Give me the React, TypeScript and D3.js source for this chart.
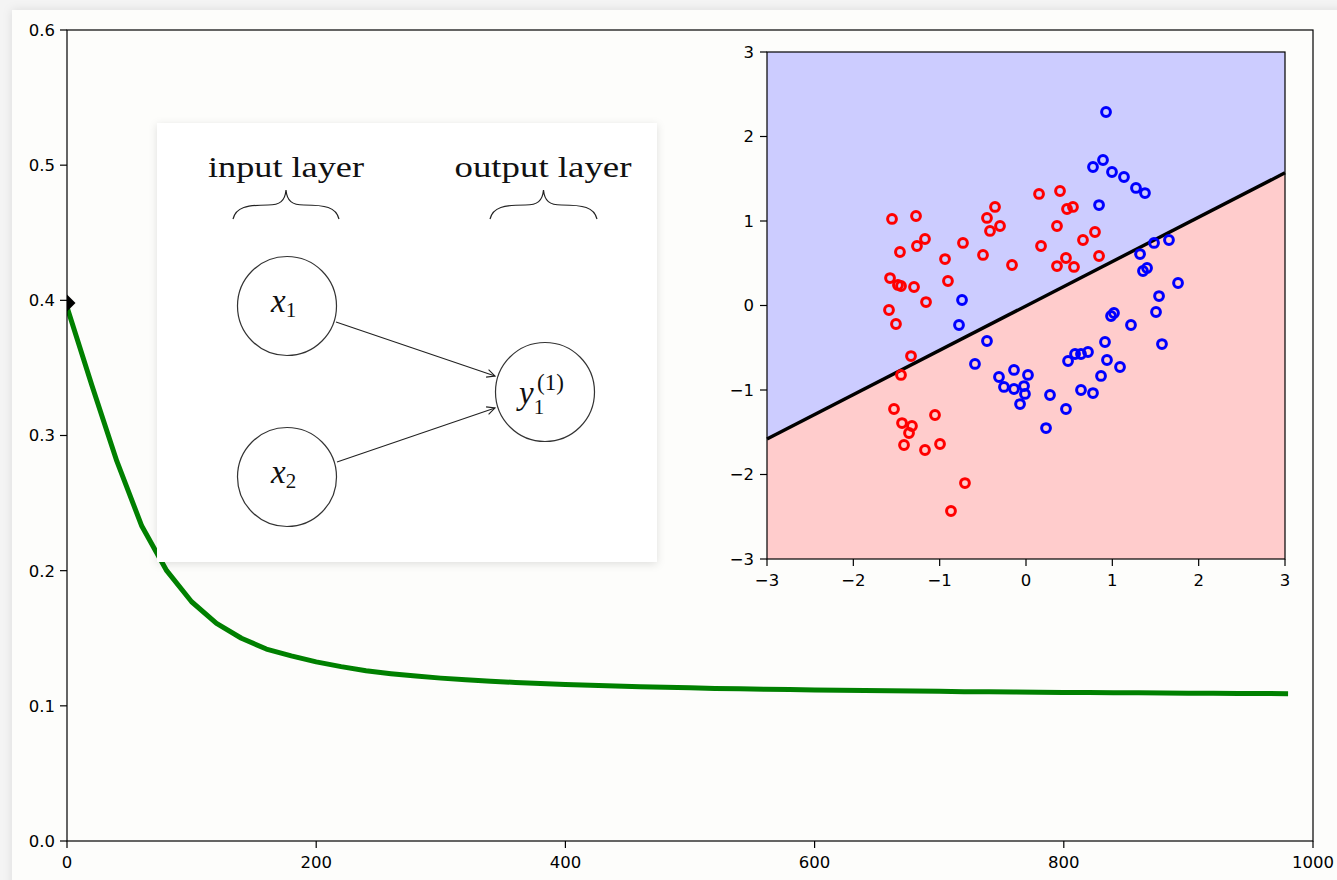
import React from "react";
import * as d3 from "d3";

// ---------- data ----------
const iterations: number[] = [0,20,40,60,80,100,120,140,160,180,200,220,240,260,280,300,320,340,360,380,400,420,440,460,480,500,520,540,560,580,600,620,640,660,680,700,720,740,760,780,800,820,840,860,880,900,920,940,960,980];
const errorValues: number[] = [0.395,0.337,0.281,0.233,0.200,0.177,0.161,0.150,0.142,0.137,0.1325,0.129,0.126,0.1238,0.122,0.1205,0.1193,0.1182,0.1173,0.1165,0.1158,0.1152,0.1146,0.1141,0.1137,0.1133,0.1129,0.1126,0.1123,0.1120,0.1117,0.1115,0.1113,0.1111,0.1109,0.1107,0.1105,0.1104,0.1102,0.1101,0.1099,0.1098,0.1097,0.1096,0.1095,0.1094,0.1093,0.1092,0.1091,0.1090];
const startMarker = { x: 0, y: 0.398 };
const mainXTicks: number[] = [0, 200, 400, 600, 800, 1000];
const mainYTicks: number[] = [0.0, 0.1, 0.2, 0.3, 0.4, 0.5, 0.6];

const redX: number[] = [-1.552,-1.274,-1.460,-1.263,-1.170,-1.575,-1.483,-1.448,-1.297,-1.158,-1.587,-1.506,-1.332,-1.448,-1.529,-1.436,-1.321,-1.355,-1.413,-1.170,-1.054,-0.996,-0.707,-0.869,-0.938,-0.904,-0.730,-0.498,-0.452,-0.359,-0.417,-0.301,-0.162,0.151,0.394,0.359,0.475,0.544,0.174,0.660,0.799,0.359,0.463,0.556,0.846];
const redY: number[] = [1.024,1.059,0.633,0.704,0.787,0.325,0.243,0.231,0.219,0.041,-0.053,-0.219,-0.598,-0.822,-1.225,-1.391,-1.426,-1.509,-1.651,-1.710,-1.296,-1.639,-2.101,-2.432,0.550,0.290,0.740,0.598,1.036,1.166,0.882,0.941,0.479,1.320,1.355,0.941,1.142,1.166,0.704,0.775,0.870,0.467,0.562,0.456,0.586];
const blueX: number[] = [0.927,0.892,0.776,0.996,1.135,1.274,1.378,0.846,1.656,1.483,1.321,1.402,1.355,1.761,1.541,1.506,1.019,0.985,1.216,0.915,0.938,1.089,1.575,0.487,0.568,0.637,0.718,0.278,0.637,0.776,0.869,0.463,0.232,-0.741,-0.776,-0.452,-0.591,-0.313,-0.255,-0.139,-0.139,-0.023,-0.012,-0.069,0.023];
const blueY: number[] = [2.290,1.722,1.639,1.580,1.521,1.391,1.331,1.189,0.775,0.740,0.609,0.444,0.408,0.266,0.112,-0.077,-0.089,-0.124,-0.231,-0.432,-0.645,-0.728,-0.456,-0.657,-0.574,-0.574,-0.550,-1.059,-1.000,-1.036,-0.834,-1.225,-1.450,0.065,-0.231,-0.420,-0.692,-0.846,-0.964,-0.763,-0.988,-0.953,-1.047,-1.166,-0.822];
const boundaryX: number[] = [-3, 3];
const boundaryY: number[] = [-1.58, 1.57];
const insetTicks: number[] = [-3, -2, -1, 0, 1, 2, 3];

const inputLabel = "input layer";
const outputLabel = "output layer";

// ---------- helpers ----------
const fmtMinus = (v: number) => (v < 0 ? "\u2212" + Math.abs(v) : String(v));

function brace(xL: number, xR: number, yb: number, ym: number, yt: number) {
  const xm = (xL + xR) / 2;
  return `M${xL},${yb} C${xL + 3},${ym + 2} ${xL + 14},${ym} ${xm - 18},${ym} C${xm - 6},${ym} ${xm - 1},${ym - 4} ${xm},${yt} C${xm + 1},${ym - 4} ${xm + 6},${ym} ${xm + 18},${ym} C${xR - 14},${ym} ${xR - 3},${ym + 2} ${xR},${yb}`;
}

function Arrow({ x1, y1, x2, y2 }: { x1: number; y1: number; x2: number; y2: number }) {
  const a = Math.atan2(y2 - y1, x2 - x1);
  const L = 9;
  const s = 0.45;
  const p1 = [x2 - L * Math.cos(a - s), y2 - L * Math.sin(a - s)];
  const p2 = [x2 - L * Math.cos(a + s), y2 - L * Math.sin(a + s)];
  return (
    <g stroke="#222" strokeWidth={1.1} fill="none">
      <line x1={x1} y1={y1} x2={x2} y2={y2} />
      <path d={`M${p1[0]},${p1[1]} L${x2},${y2} L${p2[0]},${p2[1]}`} />
    </g>
  );
}

export default function App() {
  const W = 1337, H = 880;
  const x = d3.scaleLinear().domain([0, 1000]).range([67, 1313]);
  const y = d3.scaleLinear().domain([0, 0.6]).range([841, 30]);
  const line = d3.line<number>().x((_, i) => x(iterations[i])).y((d) => y(d));

  const sx = d3.scaleLinear().domain([-3, 3]).range([767, 1285]);
  const sy = d3.scaleLinear().domain([-3, 3]).range([559, 52]);

  const bL = [sx(boundaryX[0]), sy(boundaryY[0])];
  const bR = [sx(boundaryX[1]), sy(boundaryY[1])];
  const bluePoly = `M${sx(-3)},${sy(3)} L${sx(3)},${sy(3)} L${bR[0]},${bR[1]} L${bL[0]},${bL[1]} Z`;
  const redPoly = `M${bL[0]},${bL[1]} L${bR[0]},${bR[1]} L${sx(3)},${sy(-3)} L${sx(-3)},${sy(-3)} Z`;

  const font = "'DejaVu Sans', sans-serif";
  const serif = "'Liberation Serif', 'DejaVu Serif', serif";

  const mx = x(startMarker.x), my = y(startMarker.y);
  const ms = 8.5;

  return (
    <svg width={W} height={H} style={{ position: "absolute", left: 0, top: 0, display: "block" }}>
      <defs>
        <filter id="cardShadow" x="-5%" y="-5%" width="110%" height="110%">
          <feDropShadow dx="0" dy="0" stdDeviation="5" floodColor="#000" floodOpacity="0.10" />
        </filter>
        <filter id="boxShadow" x="-10%" y="-10%" width="120%" height="120%">
          <feDropShadow dx="0" dy="2" stdDeviation="4" floodColor="#000" floodOpacity="0.12" />
        </filter>
        <clipPath id="mainClip">
          <rect x={67} y={30} width={1313 - 67} height={841 - 30} />
        </clipPath>
      </defs>
      <rect x={0} y={0} width={W} height={H} fill="#f4f4f4" />
      <rect x={12} y={10} width={W + 20} height={H + 20} fill="#fdfdfb" filter="url(#cardShadow)" />

      <g clipPath="url(#mainClip)">
        <path d={line(errorValues) || ""} fill="none" stroke="#008000" strokeWidth={5} strokeLinejoin="round" />
        <path d={`M${mx},${my - ms} L${mx + ms},${my} L${mx},${my + ms} L${mx - ms},${my} Z`} fill="#000" />
      </g>

      <rect x={67} y={30} width={1313 - 67} height={841 - 30} fill="none" stroke="#000" strokeWidth={1.2} />
      {mainYTicks.map((t) => (
        <g key={"my" + t}>
          <line x1={60} x2={67} y1={y(t)} y2={y(t)} stroke="#000" strokeWidth={1.2} />
          <text x={55} y={y(t)} dy="0.36em" textAnchor="end" fontFamily={font} fontSize={16.5} fill="#000">
            {t.toFixed(1)}
          </text>
        </g>
      ))}
      {mainXTicks.map((t) => (
        <g key={"mx" + t}>
          <line x1={x(t)} x2={x(t)} y1={841} y2={848} stroke="#000" strokeWidth={1.2} />
          <text x={x(t)} y={868} textAnchor="middle" fontFamily={font} fontSize={16.5} fill="#000">
            {t}
          </text>
        </g>
      ))}

      {/* network diagram inset */}
      <rect x={157} y={123} width={500} height={439} fill="#ffffff" filter="url(#boxShadow)" />
      <text x={286} y={177} textAnchor="middle" fontFamily={serif} fontSize={30} textLength={156} lengthAdjust="spacingAndGlyphs" fill="#111">
        {inputLabel}
      </text>
      <text x={543} y={177} textAnchor="middle" fontFamily={serif} fontSize={30} textLength={177} lengthAdjust="spacingAndGlyphs" fill="#111">
        {outputLabel}
      </text>
      <path d={brace(233, 339, 219, 205, 190)} fill="none" stroke="#222" strokeWidth={1.2} />
      <path d={brace(490, 597, 219, 205, 190)} fill="none" stroke="#222" strokeWidth={1.2} />

      <circle cx={287} cy={306} r={49.5} fill="none" stroke="#333" strokeWidth={1.2} />
      <circle cx={287} cy={477} r={49.5} fill="none" stroke="#333" strokeWidth={1.2} />
      <circle cx={545} cy={392} r={49.5} fill="none" stroke="#333" strokeWidth={1.2} />

      <text x={271} y={312} fontFamily={serif} fontSize={33} fill="#111">
        <tspan fontStyle="italic">x</tspan>
        <tspan fontSize={21} dy={5}>1</tspan>
      </text>
      <text x={271} y={483} fontFamily={serif} fontSize={33} fill="#111">
        <tspan fontStyle="italic">x</tspan>
        <tspan fontSize={21} dy={5}>2</tspan>
      </text>
      <text x={519} y={404} fontFamily={serif} fontSize={33} fill="#111">
        <tspan fontStyle="italic">y</tspan>
        <tspan fontSize={21} dy={10}>1</tspan>
      </text>
      <text x={537} y={390} fontFamily={serif} fontSize={23} fill="#111">(1)</text>

      <Arrow x1={336} y1={322} x2={495} y2={376} />
      <Arrow x1={337} y1={462} x2={495} y2={408} />

      {/* scatter inset */}
      <path d={bluePoly} fill="#ccccff" />
      <path d={redPoly} fill="#ffcccc" />
      <line x1={bL[0]} y1={bL[1]} x2={bR[0]} y2={bR[1]} stroke="#000" strokeWidth={3.4} />
      {redX.map((v, i) => (
        <circle key={"r" + i} cx={sx(v)} cy={sy(redY[i])} r={4.4} fill="none" stroke="#ff0000" strokeWidth={3} />
      ))}
      {blueX.map((v, i) => (
        <circle key={"b" + i} cx={sx(v)} cy={sy(blueY[i])} r={4.4} fill="none" stroke="#0000ff" strokeWidth={3} />
      ))}
      <rect x={767} y={52} width={1285 - 767} height={559 - 52} fill="none" stroke="#000" strokeWidth={1.2} />
      {insetTicks.map((t) => (
        <g key={"iy" + t}>
          <line x1={760} x2={767} y1={sy(t)} y2={sy(t)} stroke="#000" strokeWidth={1.2} />
          <text x={754} y={sy(t)} dy="0.36em" textAnchor="end" fontFamily={font} fontSize={16.5} fill="#000">
            {fmtMinus(t)}
          </text>
          <line x1={sx(t)} x2={sx(t)} y1={559} y2={566} stroke="#000" strokeWidth={1.2} />
          <text x={sx(t)} y={586} textAnchor="middle" fontFamily={font} fontSize={16.5} fill="#000">
            {fmtMinus(t)}
          </text>
        </g>
      ))}
    </svg>
  );
}
